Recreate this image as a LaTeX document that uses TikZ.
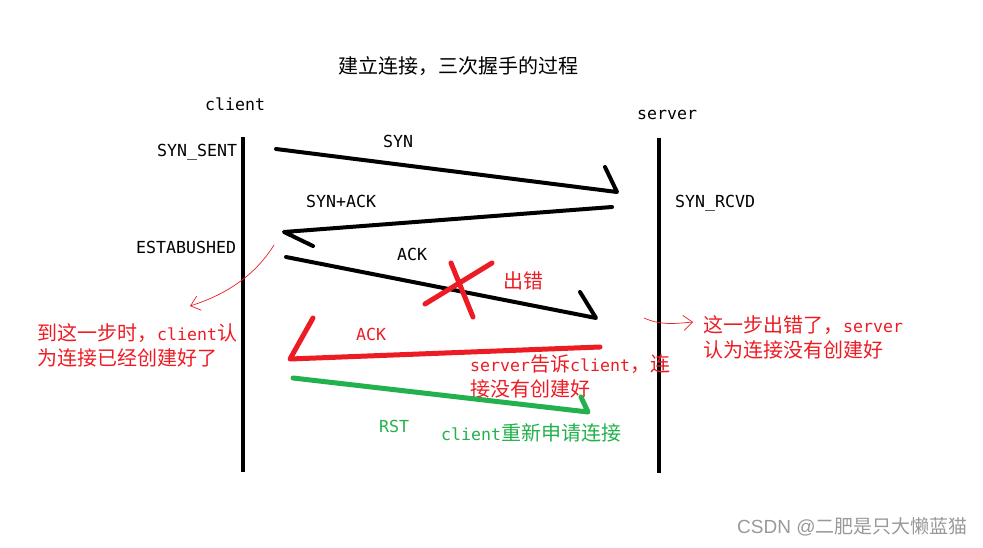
\documentclass[tikz,border=0pt]{standalone}
\usepackage{fontspec}
\setmainfont{DejaVu Sans Mono}[Scale=0.83]
\newfontfamily\cjk{Noto Sans CJK SC}
\newfontfamily\wmfont{Liberation Sans}
\usetikzlibrary{arrows.meta}
\definecolor{pred}{RGB}{237,28,36}
\definecolor{pgreen}{RGB}{34,177,76}
\tikzset{hand/.style={x=1pt,y=-1pt,font=\fontsize{20}{25}\selectfont,inner sep=0pt},
  life/.style={line width=4pt},
  msg/.style={line width=4pt,line cap=round,line join=round},
  label/.style={anchor=west,align=left},
  pointer/.style={pred,line width=0.7pt,-{Straight Barb[length=9pt,width=15pt]}}}

\begin{document}
\begin{tikzpicture}[hand]
    \useasboundingbox (0,0) rectangle (983,548);
    % lifelines
    \coordinate (ctop) at (243,137); \coordinate (cbot) at (243,472);
    \coordinate (stop) at (659,138); \coordinate (sbot) at (659,473);
    \draw[life] (ctop) -- (cbot);
    \draw[life] (stop) -- (sbot);
    \node[label] (title) at (338,66) {\cjk 建立连接，三次握手的过程};
    \node[label] (client) at (205,104) {client};
    \node[label] (server) at (637,115) {server};
    \node[label] (synsent) at (157,152) {SYN\_SENT};
    \node[label] (estab) at (136,247) {ESTABUSHED};
    \node[label] (synrcvd) at (675,203) {SYN\_RCVD};
    % SYN
    \coordinate (syn1) at (276,149); \coordinate (syn2) at (617,192); \coordinate (syn3) at (605,167);
    \draw[msg] (syn1) -- (syn2) -- (syn3);
    \node[label] (synl) at (383,141) {SYN};
    % SYN+ACK
    \coordinate (sa1) at (612,207); \coordinate (sa2) at (284,232); \coordinate (sa3) at (313,246);
    \draw[msg] (sa1) -- (sa2) -- (sa3);
    \node[label] (sal) at (306,201) {SYN+ACK};
    % ACK, lost
    \coordinate (ack1) at (286,257); \coordinate (ack2) at (596,318); \coordinate (ack3) at (580,292);
    \draw[msg] (ack1) -- (ack2) -- (ack3);
    \node[label] (ackl) at (397,254) {ACK};
    \coordinate (x1) at (425,304); \coordinate (x2) at (492,263);
    \coordinate (x3) at (451,263); \coordinate (x4) at (473,317);
    \draw[msg,pred,line width=5pt] (x1) -- (x2) (x3) -- (x4);
    \node[label,pred] (err) at (503,281) {\cjk 出错};
    % notes
    \coordinate (p1) at (274,245); \coordinate (p2) at (190,306);
    \draw[pointer] (p1) .. controls (256,274) and (228,294) .. (p2);
    \node[label,pred] (cnote) at (37,345.5) {{\cjk 到这一步时，}client{\cjk 认}\\{\cjk 为连接已经创建好了}};
    \coordinate (q1) at (644,318); \coordinate (q2) at (693,322);
    \draw[pointer] (q1) .. controls (660,325) and (672,324) .. (q2);
    \node[label,pred] (snote) at (703,337.5) {{\cjk 这一步出错了，}server\\{\cjk 认为连接没有创建好}};
    % ACK again
    \coordinate (ra1) at (600,347); \coordinate (ra2) at (290,359); \coordinate (ra3) at (313,318);
    \draw[msg,pred,line width=5pt] (ra1) -- (ra2) -- (ra3);
    \node[label,pred] (ral) at (356,334) {ACK};
    \node[label,pred] (rnote) at (470,376) {server{\cjk 告诉}client{\cjk ，连}\\{\cjk 接没有创建好}};
    % RST
    \coordinate (rst1) at (293,378); \coordinate (rst2) at (588,412); \coordinate (rst3) at (581,397);
    \draw[msg,pgreen,line width=5pt] (rst1) -- (rst2) -- (rst3);
    \node[label,pgreen] (rstl) at (379,426) {RST};
    \node[label,pgreen] (gnote) at (441,433) {client{\cjk 重新申请连接}};
    \node[label,gray!80,font=\fontsize{19}{21}\selectfont] (mark) at (737,527) {\wmfont CSDN @\cjk 二肥是只大懒蓝猫};
\end{tikzpicture}
\end{document}
